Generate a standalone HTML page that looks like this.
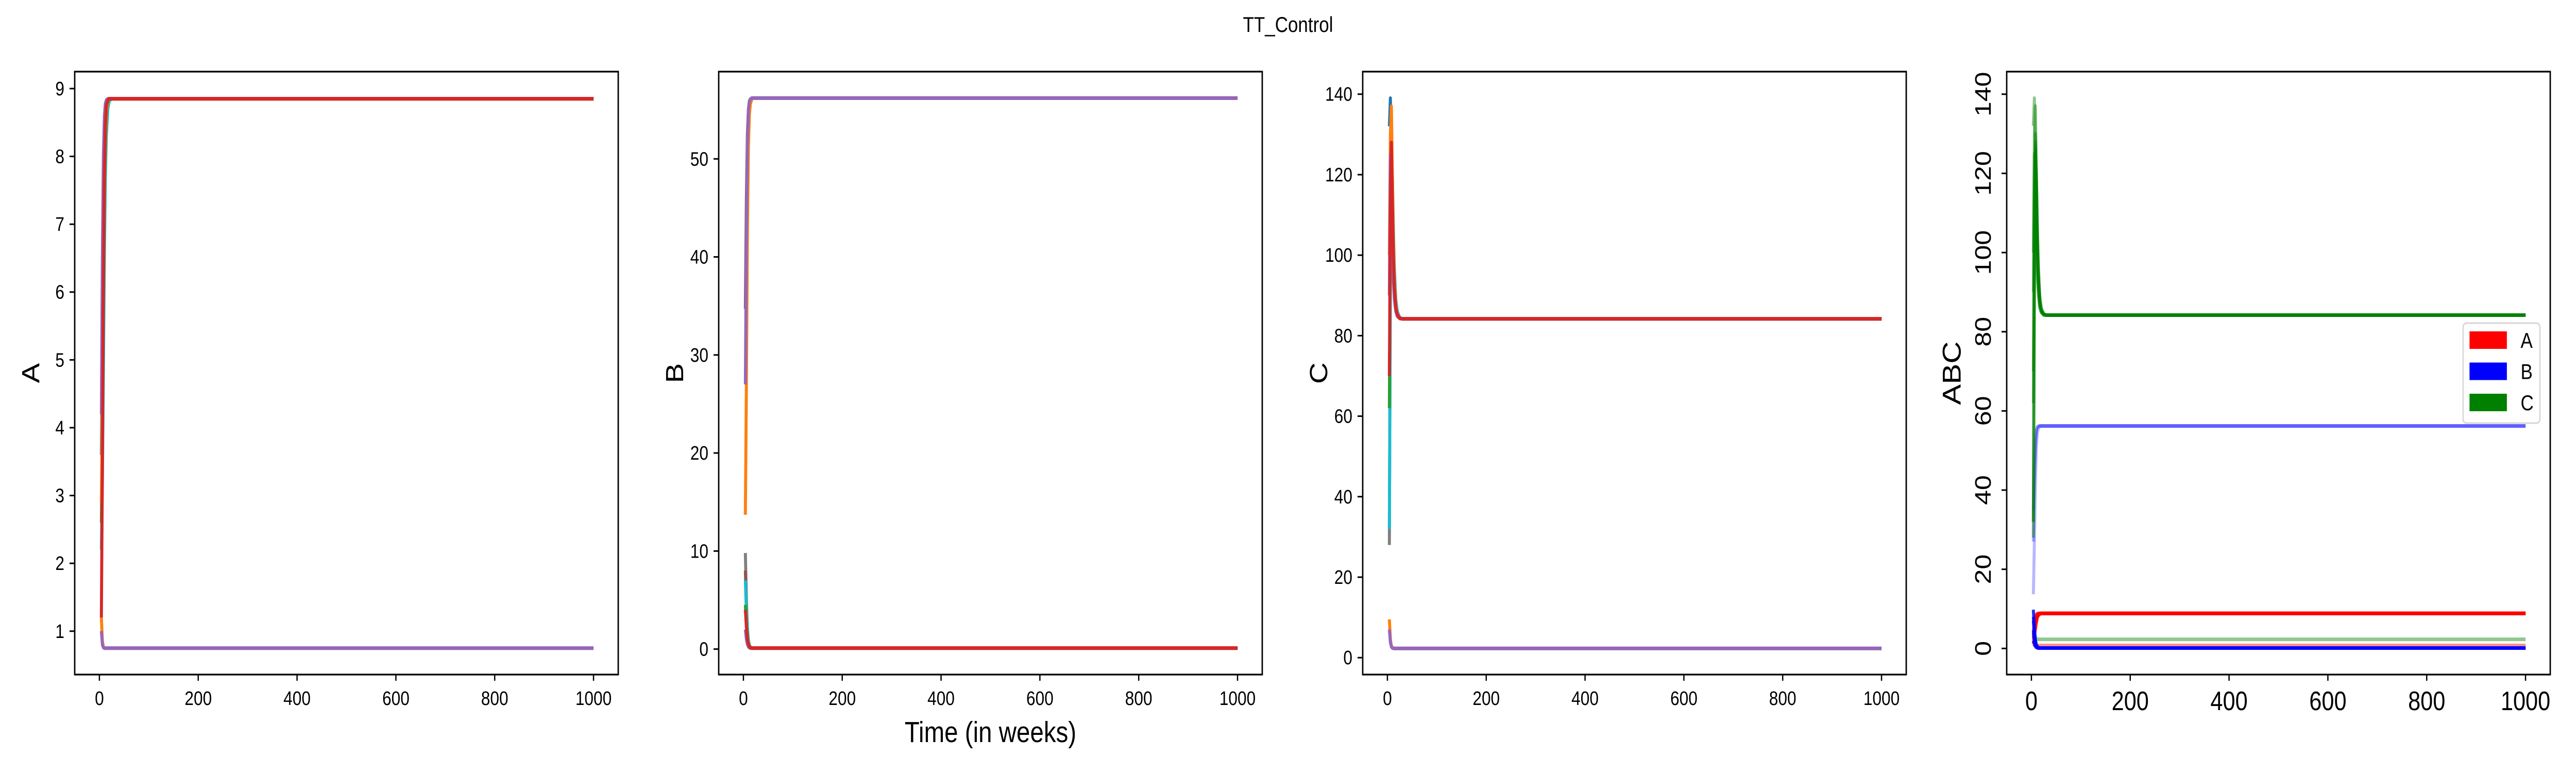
<!DOCTYPE html>
<html><head><meta charset="utf-8"><title>TT_Control</title>
<style>html,body{margin:0;padding:0;background:#fff;overflow:hidden;width:100%;height:100%}svg{display:block;width:100vw;height:100vh;font-family:"Liberation Sans","DejaVu Sans",sans-serif}</style>
</head><body>
<svg id="fig" viewBox="0 0 6000 1500" preserveAspectRatio="none" xmlns="http://www.w3.org/2000/svg">
<rect width="6000" height="1500" fill="#fff"/>
<text x="3000" y="62" font-size="42" text-anchor="middle">TT_Control</text>
</svg>
<script>
// time points shared by all trajectories
const times = [4, 6, 8, 10, 12, 14, 17, 20, 25, 30, 40, 1000];
const xTicks = [0, 200, 400, 600, 800, 1000];

// Panel A series
const aUpper = [
  {c:'#1f77b4', v:[3.6,5.0,6.6,7.8,8.4,8.7,8.82,8.85,8.85,8.85,8.85,8.85]},
  {c:'#17becf', v:[2.2,3.2,4.8,6.5,7.7,8.3,8.7,8.82,8.85,8.85,8.85,8.85]},
  {c:'#2ca02c', v:[2.6,4.0,5.8,7.3,8.2,8.6,8.8,8.85,8.85,8.85,8.85,8.85]},
  {c:'#ff7f0e', v:[2.9,4.5,6.3,7.6,8.3,8.65,8.82,8.85,8.85,8.85,8.85,8.85]},
  {c:'#9467bd', v:[4.2,6.6,8.0,8.6,8.78,8.83,8.85,8.85,8.85,8.85,8.85,8.85]},
  {c:'#d62728', v:[1.2,3.4,6.0,7.7,8.45,8.75,8.83,8.85,8.85,8.85,8.85,8.85]}
];
const aLower = [
  {c:'#ff7f0e', v:[1.2,0.85,0.77,0.75,0.75,0.75,0.75,0.75,0.75,0.75,0.75,0.75]},
  {c:'#9467bd', v:[1.0,0.8,0.76,0.75,0.75,0.75,0.75,0.75,0.75,0.75,0.75,0.75]}
];
// Panel B series
const bUpper = [
  {c:'#ff7f0e', v:[13.7,27,42,51,54.5,55.6,56.1,56.2,56.2,56.2,56.2,56.2]},
  {c:'#8c564b', v:[34.7,46,52.5,55,55.9,56.1,56.2,56.2,56.2,56.2,56.2,56.2]},
  {c:'#9467bd', v:[27,42,51.5,55,55.9,56.1,56.2,56.2,56.2,56.2,56.2,56.2]}
];
const bLower = [
  {c:'#7f7f7f', v:[9.8,5.0,2.2,0.9,0.4,0.2,0.1,0.1,0.1,0.1,0.1,0.1]},
  {c:'#8c564b', v:[8.0,4.2,1.8,0.8,0.35,0.2,0.1,0.1,0.1,0.1,0.1,0.1]},
  {c:'#17becf', v:[7.0,3.8,1.7,0.8,0.35,0.2,0.1,0.1,0.1,0.1,0.1,0.1]},
  {c:'#2ca02c', v:[4.5,2.6,1.2,0.6,0.3,0.15,0.1,0.1,0.1,0.1,0.1,0.1]},
  {c:'#9467bd', v:[2.0,1.0,0.5,0.25,0.15,0.1,0.1,0.1,0.1,0.1,0.1,0.1]},
  {c:'#d62728', v:[4.0,2.2,1.0,0.5,0.25,0.15,0.1,0.1,0.1,0.1,0.1,0.1]}
];
// Panel C series
const cUpper = [
  {c:'#7f7f7f', v:[28,95,126,118,104,95,88,85.5,84.4,84.2,84.2,84.2]},
  {c:'#e377c2', v:[32,98,127,117,103,94,88,85.5,84.4,84.2,84.2,84.2]},
  {c:'#17becf', v:[32,90,124,120,107,97,89,86,84.5,84.2,84.2,84.2]},
  {c:'#2ca02c', v:[62,112,130,116,101,93,87,85.2,84.3,84.2,84.2,84.2]},
  {c:'#1f77b4', v:[132,139,125,108,97,91,86.5,85,84.3,84.2,84.2,84.2]},
  {c:'#ff7f0e', v:[100,130,137,120,104,94,87.5,85.3,84.3,84.2,84.2,84.2]},
  {c:'#9467bd', v:[90,125,118,102,94,89,86,84.8,84.3,84.2,84.2,84.2]},
  {c:'#d62728', v:[70,112,128,114,100,92,87,85.2,84.3,84.2,84.2,84.2]}
];
const cLower = [
  {c:'#ff7f0e', v:[9.5,4.5,2.9,2.5,2.35,2.3,2.3,2.3,2.3,2.3,2.3,2.3]},
  {c:'#9467bd', v:[7.0,3.8,2.7,2.4,2.3,2.3,2.3,2.3,2.3,2.3,2.3,2.3]}
];

const NS = 'http://www.w3.org/2000/svg';
const svg = document.getElementById('fig');
function mk(tag, attrs, parent){const e=document.createElementNS(NS,tag);for(const k in attrs)e.setAttribute(k,attrs[k]);(parent||svg).appendChild(e);return e;}

const AX_W = 1266, AX_T = 139, AX_B = 1309;
function panel(i, name, yMin, yMax, yTicks, groups, big){
  const x0 = 174 + 1500*i;
  const sx = v => x0 + (v + 50) / 1100 * AX_W;
  const sy = v => AX_B - (v - yMin) / (yMax - yMin) * (AX_B - AX_T);
  const g = mk('g', {});
  
  
  const clipId = 'clip' + i;
  const cp = mk('clipPath', {id: clipId}, g);
  mk('rect', {x:x0, y:AX_T, width:AX_W, height:AX_B-AX_T}, cp);
  const lines = mk('g', {'clip-path': 'url(#' + clipId + ')'}, g);
  
  
  groups.forEach(gr => {
    gr.series.forEach((s, k) => {
      const pts = s.v.map((v, j) => sx(times[j]).toFixed(1) + ',' + sy(v).toFixed(1)).join(' ');
      const pl = mk('polyline', {points: pts, fill: 'none', stroke: gr.color || s.c, 'stroke-width': 7,
        'stroke-opacity': gr.alpha || 1, 'stroke-linejoin': 'round'}, lines);
      
      
    });
  });
  const frame = mk('rect', {x:x0, y:AX_T, width:AX_W, height:AX_B-AX_T, fill:'none', stroke:'#000', 'stroke-width':3.3}, g);
  
  
  const fs = big ? 52 : 38;
  xTicks.forEach(t => {
    const x = sx(t);
    mk('line', {x1:x, x2:x, y1:AX_B, y2:AX_B+12, stroke:'#000', 'stroke-width':3}, g);
    const tx = mk('text', {x:x, y: big ? 1378 : 1368, 'font-size':fs, 'text-anchor':'middle'}, g);
    tx.textContent = t;
    
    
  });
  yTicks.forEach(t => {
    const y = sy(t);
    mk('line', {x1:x0-12, x2:x0, y1:y, y2:y, stroke:'#000', 'stroke-width':3}, g);
    let tx;
    if (big) {
      const cx = x0 - 54;
      tx = mk('text', {x:cx, y:y, 'font-size':fs, 'text-anchor':'middle', 'dominant-baseline':'central',
        transform:'rotate(-90 ' + cx + ' ' + y + ')'}, g);
    } else {
      tx = mk('text', {x:x0-24, y:y+13, 'font-size':fs, 'text-anchor':'end'}, g);
    }
    tx.textContent = t;
    
    
  });
  const lx = big ? x0 - 128 : x0 - 102;
  const yl = mk('text', {x:lx, y:724, 'font-size':big ? 60 : 58, 'text-anchor':'middle', 'dominant-baseline':'central',
    transform:'rotate(-90 ' + lx + ' 724)'}, g);
  yl.textContent = name;
  
  
}

panel(0, 'A', 0.36, 9.25, [1,2,3,4,5,6,7,8,9],
  [{label:'a-high', series:aUpper}, {label:'a-low', series:aLower}], false);
panel(1, 'B', -2.6, 58.9, [0,10,20,30,40,50],
  [{label:'b-high', series:bUpper}, {label:'b-low', series:bLower}], false);
panel(2, 'C', -4.2, 145.6, [0,20,40,60,80,100,120,140],
  [{label:'c-high', series:cUpper}, {label:'c-low', series:cLower}], false);
panel(3, 'ABC', -6.6, 145.7, [0,20,40,60,80,100,120,140],
  [{label:'c-low', series:cLower, color:'#008000', alpha:0.25},
   {label:'a-low', series:aLower, color:'#ff0000', alpha:0.25},
   {label:'b-high', series:bUpper, color:'#0000ff', alpha:0.28},
   {label:'c-high', series:cUpper, color:'#008000', alpha:0.45},
   {label:'a-high', series:aUpper, color:'#ff0000', alpha:0.8},
   {label:'b-low', series:bLower, color:'#0000ff', alpha:0.8}], true);

const xl = mk('text', {x:2307, y:1440, 'font-size':57, 'text-anchor':'middle'});
xl.textContent = 'Time (in weeks)';



// legend
const legLabels = ['A', 'B', 'C'];
const legColors = ['#ff0000', '#0000ff', '#008000'];
const leg = mk('g', {});


mk('rect', {x:5737, y:627, width:179, height:194, rx:8, fill:'#fff', 'fill-opacity':0.8, stroke:'#d6d6d6', 'stroke-width':3}, leg);
legLabels.forEach((l, k) => {
  const cy = 660 + k*60.5;
  const p = mk('rect', {x:5752, y:cy-17, width:87, height:34, fill:legColors[k]}, leg);
  
  
  const t = mk('text', {x:5871, y:cy+15, 'font-size':42}, leg);
  t.textContent = l;
  
  
});
</script>
</body></html>
